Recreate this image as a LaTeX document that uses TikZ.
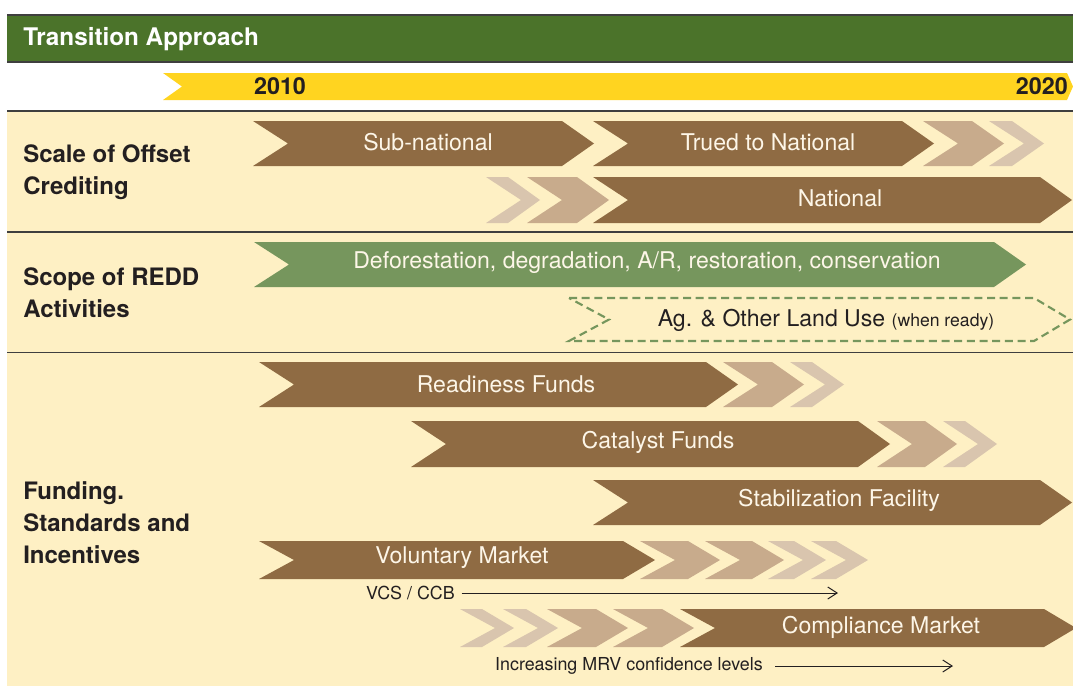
\documentclass[tikz,border=0pt]{standalone}
\usepackage{fontspec}
\setmainfont{TeX Gyre Heros}
\usetikzlibrary{arrows.meta,positioning}

\definecolor{headgreen}{HTML}{4B732A}
\definecolor{yearyellow}{HTML}{FFD420}
\definecolor{cream}{HTML}{FEF0C4}
\definecolor{barbrown}{HTML}{8F6B43}
\definecolor{tanmid}{HTML}{C8AB8C}
\definecolor{tanpale}{HTML}{D9C5AE}
\definecolor{bargreen}{HTML}{76965D}
\definecolor{rulegray}{HTML}{3F3F3F}
\definecolor{ink}{HTML}{231F20}
\definecolor{barwhite}{HTML}{FDF6E8}

% chevron: left x, right x, top y, bottom y, style
\newcommand{\chev}[5]{%
  \fill[#5] (#1,#3) -- (#2,#3) -- ({#2+32},{(#3+#4)/2}) -- (#2,#4)
    -- (#1,#4) -- ({#1+35},{(#3+#4)/2}) -- cycle;}

\begin{document}
\begin{tikzpicture}
%Transition timeline
	[x=0.75pt,y=-0.75pt,
	 %Styles
	 row_label/.style={anchor=west,align=left,inner sep=0pt,text=ink,
	   font=\bfseries\fontsize{18}{24}\selectfont},
	 bar_text/.style={inner sep=0pt,text=barwhite,font=\fontsize{17.3}{20}\selectfont},
	 year_label/.style={inner sep=0pt,text=ink,font=\bfseries\fontsize{17.5}{20}\selectfont},
	 note_text/.style={inner sep=0pt,text=ink,font=\fontsize{13.4}{15}\selectfont},
	 brown_bar/.style={fill=barbrown},
	 mid_bar/.style={fill=tanmid},
	 pale_bar/.style={fill=tanpale},
	 green_bar/.style={fill=bargreen},
	 dashed_bar/.style={draw=bargreen,line width=1.6pt,dash pattern=on 6pt off 3.5pt},
	 rule_line/.style={draw=rulegray,line width=1pt},
	 note_arrow/.style={draw=ink,line width=0.75pt,-{Straight Barb[length=7pt,width=9pt]}}
	]

	\useasboundingbox (0,0) rectangle (1073,686);
	\fill[white] (0,0) rectangle (1073,686);

	%Header and year bar
	\fill[headgreen] (7,15) rectangle (1073,62);
	\draw[rule_line] (7,15) -- (1073,15) (7,62) -- (1073,62);
	\node (hdr_title) [anchor=west,inner sep=0pt,text=white,
	  font=\bfseries\fontsize{18.2}{20}\selectfont] at (23,39) {Transition Approach};
	\fill[yearyellow] (163,73) -- (1067,73) -- (1073,86.5) -- (1067,100)
	  -- (163,100) -- (182,86.5) -- cycle;
	\node (year_start) [year_label] at (280,86.5) {2010};
	\node (year_end) [year_label,anchor=east] at (1068,86.5) {2020};

	%Rows background
	\fill[cream] (7,111) rectangle (1073,686);
	\draw[rule_line] (7,111) -- (1073,111)
	  (7,232) -- (1073,232)
	  (7,352.5) -- (1073,352.5);

	%Row labels
	\node (lbl_scale) [row_label] at (23,172) {Scale of Offset\\Crediting};
	\node (lbl_scope) [row_label] at (23,293) {Scope of REDD\\Activities};
	\node (lbl_funding) [row_label] at (23,523) {Funding.\\Standards and\\Incentives};

	%Scale of offset crediting
	\chev{253}{562}{121}{166}{brown_bar}
	\chev{593}{902}{121}{166}{brown_bar}
	\chev{923}{972}{121}{166}{mid_bar}
	\chev{989}{1012}{121}{166}{pale_bar}
	\chev{486}{508}{177}{223}{pale_bar}
	\chev{527}{577}{177}{223}{mid_bar}
	\chev{593}{1040}{177}{223}{brown_bar}
	\path (428,142) node (txt_subnat) [bar_text] {Sub-national}
	  ++(340,0) node (txt_trued) [bar_text] {Trued to National}
	  ++(72,56) node (txt_national) [bar_text] {National};

	%Scope of REDD activities
	\chev{254}{994}{242}{287}{green_bar}
	\draw[dashed_bar] (569,298) -- (1034,298) -- (1070,319.5) -- (1034,341)
	  -- (569,341) -- (609,319.5) -- cycle;
	\node (txt_deforest) [bar_text] at (647,263)
	  {Deforestation, degradation, A/R, restoration, conservation};
	\node (txt_agri) [bar_text,text=ink] at (826,320)
	  {Ag. \& Other Land Use {\fontsize{13.2}{15}\selectfont(when ready)}};

	%Funding, standards and incentives
	\chev{259}{706}{362}{407}{brown_bar}
	\chev{723}{772}{362}{407}{mid_bar}
	\chev{790}{812}{362}{407}{pale_bar}
	\chev{411}{858}{421}{467}{brown_bar}
	\chev{877}{925}{421}{467}{mid_bar}
	\chev{943}{965}{421}{467}{pale_bar}
	\chev{593}{1040}{480}{525}{brown_bar}
	\chev{259}{623}{541}{579}{brown_bar}
	\chev{640}{688}{541}{579}{mid_bar}
	\chev{705}{752}{541}{579}{mid_bar}
	\chev{768}{794}{541}{579}{pale_bar}
	\chev{811}{836}{541}{579}{pale_bar}
	\chev{460}{482}{609}{647}{pale_bar}
	\chev{503}{526}{609}{647}{pale_bar}
	\chev{547}{596}{609}{647}{mid_bar}
	\chev{613}{662}{609}{647}{mid_bar}
	\chev{680}{1044}{609}{647}{brown_bar}
	\path (506,384) node (txt_readiness) [bar_text] {Readiness Funds}
	  ++(152,58) node (txt_catalyst) [bar_text] {Catalyst Funds}
	  ++(181,58) node (txt_stab) [bar_text] {Stabilization Facility};
	\node (txt_voluntary) [bar_text] at (462,558) {Voluntary Market};
	\node (txt_compliance) [bar_text] at (881,627) {Compliance Market};

	%Notes with arrows
	\node (txt_vcs) [note_text,anchor=east] at (455,593) {VCS / CCB};
	\node (txt_mrv) [note_text,anchor=east] at (763,666) {Increasing MRV confidence levels};
	\coordinate (vcs_end) at (838,593);
	\coordinate (mrv_end) at (953,666);
	\draw[note_arrow] ([xshift=5pt]txt_vcs.east) -- (vcs_end);
	\draw[note_arrow] ([xshift=9pt]txt_mrv.east) -- (mrv_end);
\end{tikzpicture}
\end{document}
